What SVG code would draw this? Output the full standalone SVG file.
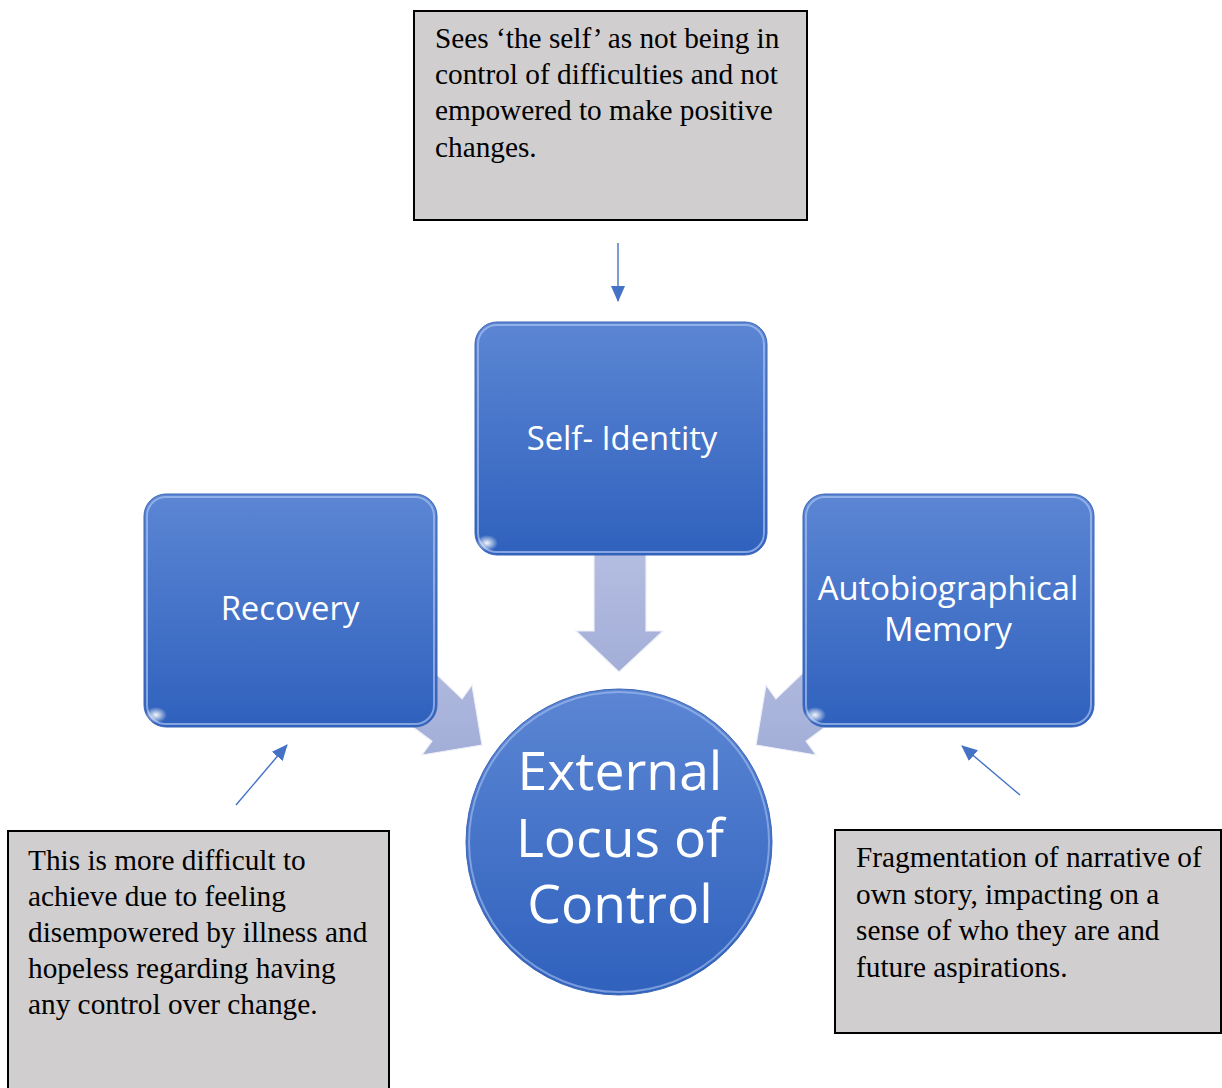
<svg xmlns="http://www.w3.org/2000/svg" width="1222" height="1088" viewBox="0 0 1222 1088">
<style>
.note{fill:#d0cece;stroke:#000;stroke-width:2}
.nt{font-family:"Liberation Serif","Times New Roman",serif;font-size:29.3px;fill:#000}
.node{fill:url(#gBlue);stroke:#3c66b8;stroke-width:1}
.rim{fill:none;stroke:#a8c2f0;stroke-opacity:0.7;stroke-width:2}
.lbl{font-family:"Open Sans","Liberation Sans",sans-serif;fill:#fff;text-anchor:middle;font-size:32.8px}
.lbl-big{font-size:53.5px}
.big{fill:url(#gArrow);stroke:#eef0f8;stroke-width:1.2}
.con{stroke:#4472c4;stroke-width:1.4;fill:none;marker-end:url(#ah)}
</style>
<defs>
<linearGradient id="gBlue" x1="0" y1="0" x2="0" y2="1">
<stop offset="0" stop-color="#5c86d4"/>
<stop offset="1" stop-color="#2f61bd"/>
</linearGradient>
<linearGradient id="gArrow" x1="0" y1="0" x2="0" y2="1">
<stop offset="0" stop-color="#b6bfe2"/>
<stop offset="1" stop-color="#a3aed8"/>
</linearGradient>
<radialGradient id="glint" cx="0.5" cy="0.5" r="0.5">
<stop offset="0" stop-color="#ffffff" stop-opacity="0.95"/>
<stop offset="1" stop-color="#ffffff" stop-opacity="0"/>
</radialGradient>
<marker id="ah" markerWidth="16" markerHeight="14" refX="15" refY="7" orient="auto" markerUnits="userSpaceOnUse">
<path d="M0,0 L16,7 L0,14 Z" fill="#4472c4"/>
</marker>
</defs>

<g id="connectors">
<polygon class="big" points="594,540 646,540 646,631 663,631 619,672 576,631 594,631"/>
<polygon class="big" points="380,620 462.1,698.9 472,685 482,745 422,755 431.9,741.2 350,680"/>
<polygon class="big" points="858,620 775.9,698.9 766,685 756,745 816,755 806.1,741.2 888,680"/>
<line class="con" x1="618" y1="243" x2="618" y2="301"/>
<line class="con" x1="236" y1="805" x2="287" y2="745"/>
<line class="con" x1="1020" y1="795" x2="962" y2="746"/>
</g>

<g id="note-top">
<rect class="note" x="414" y="11" width="393" height="209"/>
<text class="nt" x="435" y="48">Sees ‘the self’ as not being in</text>
<text class="nt" x="435" y="84">control of difficulties and not</text>
<text class="nt" x="435" y="120">empowered to make positive</text>
<text class="nt" x="435" y="157">changes.</text>
</g>

<g id="note-left">
<rect class="note" x="8" y="831" width="381" height="262"/>
<text class="nt" x="28" y="870">This is more difficult to</text>
<text class="nt" x="28" y="906">achieve due to feeling</text>
<text class="nt" x="28" y="942">disempowered by illness and</text>
<text class="nt" x="28" y="978">hopeless regarding having</text>
<text class="nt" x="28" y="1014">any control over change.</text>
</g>

<g id="note-right">
<rect class="note" x="835" y="830" width="386" height="203"/>
<text class="nt" x="856" y="867">Fragmentation of narrative of</text>
<text class="nt" x="856" y="904">own story, impacting on a</text>
<text class="nt" x="856" y="940">sense of who they are and</text>
<text class="nt" x="856" y="977">future aspirations.</text>
</g>

<g id="node-self-identity">
<rect class="node" x="475" y="322" width="292" height="233" rx="22"/>
<rect class="rim" x="478" y="325" width="286" height="227" rx="19"/>
<ellipse cx="487" cy="543" rx="11" ry="8" fill="url(#glint)"/>
<text class="lbl" x="622" y="450">Self- Identity</text>
</g>

<g id="node-recovery">
<rect class="node" x="144" y="494" width="293" height="233" rx="22"/>
<rect class="rim" x="147" y="497" width="287" height="227" rx="19"/>
<ellipse cx="156" cy="715" rx="11" ry="8" fill="url(#glint)"/>
<text class="lbl" x="290" y="620">Recovery</text>
</g>

<g id="node-autobiographical">
<rect class="node" x="803" y="494" width="291" height="233" rx="22"/>
<rect class="rim" x="806" y="497" width="285" height="227" rx="19"/>
<ellipse cx="815" cy="715" rx="11" ry="8" fill="url(#glint)"/>
<text class="lbl" x="948" y="600">Autobiographical</text>
<text class="lbl" x="948" y="641">Memory</text>
</g>

<g id="node-external-locus">
<circle cx="619" cy="842" r="153" fill="url(#gBlue)" stroke="#3c66b8" stroke-width="1"/>
<circle cx="619" cy="842" r="150" fill="none" stroke="#a8c2f0" stroke-opacity="0.6" stroke-width="2"/>
<text class="lbl lbl-big" x="620" y="790">External</text>
<text class="lbl lbl-big" x="620" y="857">Locus of</text>
<text class="lbl lbl-big" x="620" y="923">Control</text>
</g>
</svg>
